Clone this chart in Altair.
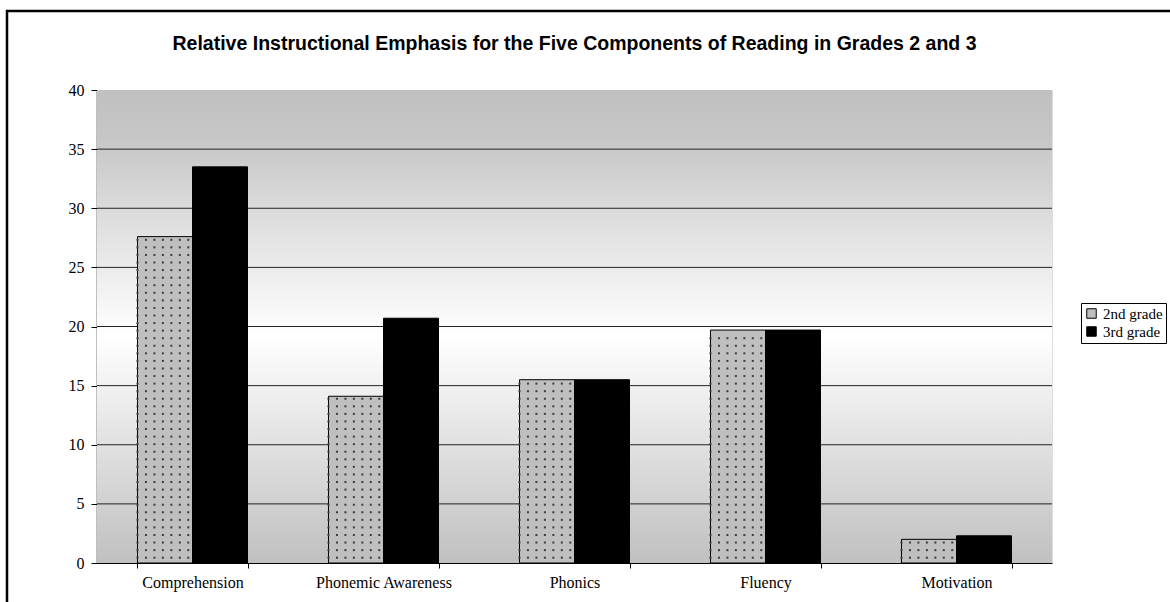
import altair as alt
import pandas as pd

# Share of reading instruction devoted to each component, by grade
components = ["Comprehension", "Phonemic Awareness", "Phonics", "Fluency", "Motivation"]
grade2 = [27.6, 14.1, 15.5, 19.7, 2.0]
grade3 = [33.5, 20.7, 15.5, 19.7, 2.3]
grades = ["2nd grade", "3rd grade"]
y_ticks = [0, 5, 10, 15, 20, 25, 30, 35, 40]
title_text = "Relative Instructional Emphasis for the Five Components of Reading in Grades 2 and 3"

rows = []
for comp, a, b in zip(components, grade2, grade3):
    rows.append({"component": comp, "grade": grades[0], "value": a})
    rows.append({"component": comp, "grade": grades[1], "value": b})
df = pd.DataFrame(rows)

W, H = 955, 473
serif = "Liberation Serif"

x_scale = alt.Scale(domain=components, paddingInner=0.424, paddingOuter=0.212)
y_scale = alt.Scale(domain=[0, 40], nice=False)

y_axis = alt.Axis(
    values=y_ticks,
    labelFont=serif,
    labelFontSize=16,
    labelColor="#000000",
    labelPadding=7,
    tickSize=6,
    tickColor="#000000",
    domainColor="#000000",
    domainWidth=1.5,
    grid=False,
)

x_axis = alt.Axis(
    labelAngle=0,
    labelFont=serif,
    labelFontSize=16,
    labelColor="#000000",
    labelPadding=6,
    tickBand="extent",
    tickSize=5,
    tickColor="#000000",
    domainColor="#000000",
    grid=False,
)

# Horizon-style gradient behind the plot area
backdrop = alt.Chart(pd.DataFrame({"lo": [0], "hi": [40]})).mark_rect(
    fill=alt.Gradient(
        gradient="linear",
        stops=[
            alt.GradientStop(color="#c0c0c0", offset=0),
            alt.GradientStop(color="#c6c6c6", offset=0.1),
            alt.GradientStop(color="#ffffff", offset=0.52),
            alt.GradientStop(color="#c0c0c0", offset=1),
        ],
        x1=0, x2=0, y1=0, y2=1,
    )
).encode(
    x=alt.value(0),
    x2=alt.value(W),
    y=alt.Y("hi:Q", scale=y_scale, axis=y_axis, title=None),
    y2="lo:Q",
)

# Horizontal gridlines at the axis tick values
grid = alt.Chart(pd.DataFrame({"v": y_ticks[1:-1]})).mark_rule(
    color="#222222", strokeWidth=1
).encode(
    y=alt.Y("v:Q", scale=y_scale, axis=y_axis, title=None),
    x=alt.value(0),
    x2=alt.value(W),
)

bars = alt.Chart(df).mark_bar(stroke="#000000", strokeWidth=1).encode(
    x=alt.X("component:N", sort=components, scale=x_scale, title=None, axis=x_axis),
    xOffset=alt.XOffset("grade:N", sort=grades),
    y=alt.Y("value:Q", scale=y_scale, title=None, axis=y_axis),
    fill=alt.Fill(
        "grade:N",
        sort=grades,
        scale=alt.Scale(domain=grades, range=["#bfbfbf", "#000000"]),
        legend=alt.Legend(
            title=None,
            orient="none",
            legendX=984,
            legendY=213,
            labelFont=serif,
            labelFontSize=15,
            labelColor="#000000",
            symbolType="square",
            symbolSize=90,
            symbolStrokeColor="#000000",
            symbolStrokeWidth=1,
            strokeColor="#000000",
            padding=3,
            rowPadding=2,
            labelOffset=4,
        ),
    ),
)

# Dotted texture over the 2nd-grade bars: a small grid of dots inside each bar
slots = [f"s{i}" for i in range(14)]
dots = alt.Chart(df).transform_filter(
    alt.datum.grade == grades[0]
).transform_calculate(
    row="sequence(0.45, datum.value - 0.2, 0.64)",
    col="sequence(0, 7)",
).transform_flatten(["row"]).transform_flatten(["col"]).transform_calculate(
    slot="'s' + datum.col"
).mark_square(size=4, color="#3c3c3c", opacity=1).encode(
    x=alt.X("component:N", sort=components, scale=x_scale, title=None, axis=x_axis),
    xOffset=alt.XOffset(
        "slot:N", scale=alt.Scale(domain=slots, paddingInner=0, paddingOuter=0)
    ),
    y=alt.Y("row:Q", scale=y_scale, title=None, axis=y_axis),
)

# Chart title, centred over the plot area
title = alt.Chart(pd.DataFrame({"t": [title_text]})).mark_text(
    font="Liberation Sans",
    fontSize=19.5,
    fontWeight="bold",
    color="#000000",
    align="center",
    baseline="middle",
).encode(
    text="t:N",
    x=alt.value(W / 2),
    y=alt.value(-46),
)

# Frame around the whole chart
frame = alt.Chart(pd.DataFrame({"k": [0]})).mark_rect(
    fill=None, stroke="#000000", strokeWidth=2.5
).encode(
    x=alt.value(-90),
    x2=alt.value(W + 200),
    y=alt.value(-79),
    y2=alt.value(H + 200),
)

chart = alt.layer(backdrop, grid, bars, dots, title, frame).resolve_scale(
    xOffset="independent"
).properties(
    width=W,
    height=H,
    autosize=alt.AutoSizeParams(type="none"),
    padding={"left": 97, "top": 90, "right": 118, "bottom": 39},
).configure_view(
    stroke="#808080", strokeWidth=1.5
).configure(background="#ffffff")

chart.save("out.html", embed_options={"renderer": "svg", "actions": False})
